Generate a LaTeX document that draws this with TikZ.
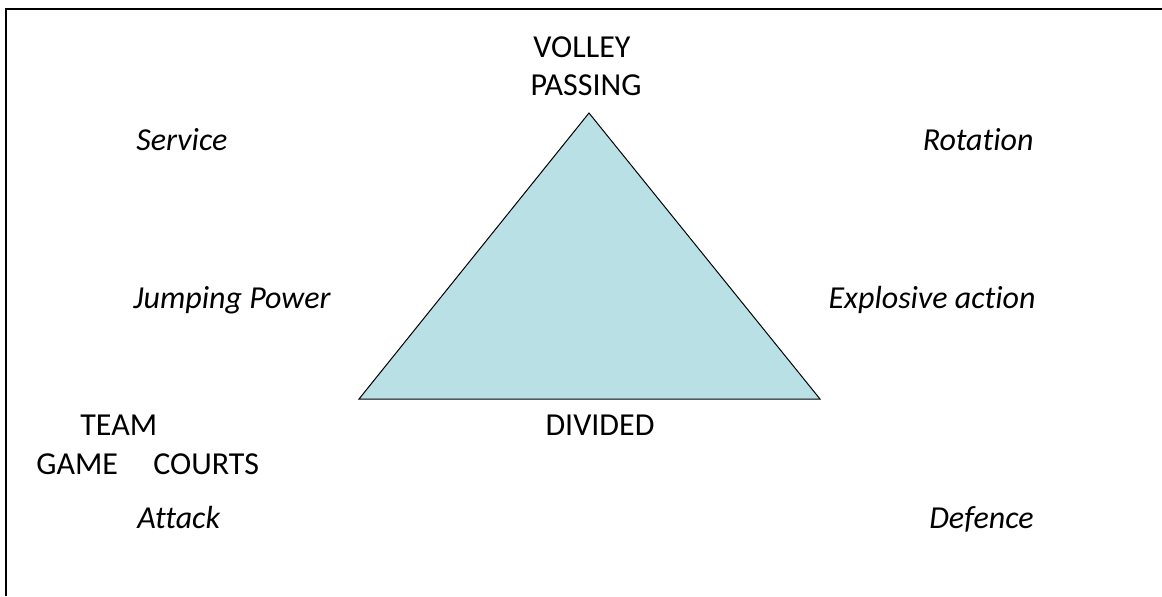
\documentclass[tikz,border=0pt]{standalone}
\usepackage{fontspec}
\setmainfont[Ligatures={NoCommon}]{Carlito}
\definecolor{trifill}{HTML}{B9E0E4}
\begin{document}
\begin{tikzpicture}[x=.5pt, y=-.5pt, lbl/.style={inner sep=0pt, font=\fontsize{16}{19}\selectfont}, itl/.style={lbl, font=\fontsize{16}{19}\selectfont\itshape}]
\useasboundingbox (0,0) rectangle (1162,596);
    \draw[line width=1pt](6,596)--(6,9)--(1162,9);
% triangle
\coordinate (apex) at (589,113);
\coordinate (left) at (359,399);
\coordinate (right) at (820,399);
\draw[fill=trifill, line width=.5pt](apex)--(left)--(right)--cycle;
\node[lbl, anchor=base] (volley) at (582,57) {VOLLEY};
\node[lbl, anchor=base] (passing) at (586,95) {PASSING};
\node[lbl, anchor=base] (divided) at (600,435) {DIVIDED};
% left side
\node[itl, anchor=base west] (service) at (136,150) {Service};
\node[itl, anchor=base west] (jumping) at (133,308) {Jumping Power};
\node[lbl, anchor=base west] (team) at (80,435) {TEAM};
\node[lbl, anchor=base west] (game) at (36,474) {GAME};
\node[lbl, anchor=base west] (courts) at (153,474) {COURTS};
\node[itl, anchor=base west] (attack) at (137,528) {Attack};
% right side
\node[itl, anchor=base east] (rotation) at (1034,150) {Rotation};
\node[itl, anchor=base east] (explosive) at (1036,308) {Explosive action};
\node[itl, anchor=base east] (defence) at (1034,528) {Defence};

\end{tikzpicture}
\end{document}
